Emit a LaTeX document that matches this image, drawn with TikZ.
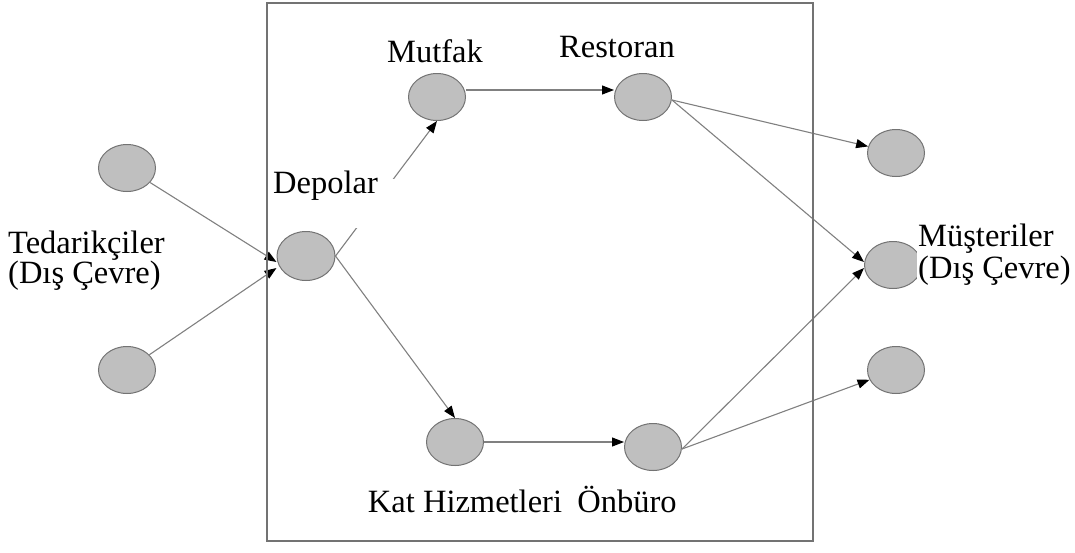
\documentclass[tikz,border=0pt]{standalone}
\usepackage{fontspec}
\setmainfont{Liberation Serif}
\usetikzlibrary{shapes.geometric,arrows.meta}
\begin{document}
\begin{tikzpicture}[x=1pt,y=-1pt,
  unit/.style={ellipse,draw=black!55,fill=black!25,line width=1pt,minimum width=57pt,minimum height=47pt,inner sep=0pt},
  flow/.style={draw=black!50,line width=1.1pt,-{Triangle[length=12pt,width=9pt,color=black]}},
  lbl/.style={inner sep=0pt,font=\fontsize{32.5}{30}\selectfont},
  frame/.style={draw=black!55,line width=1.1pt}]
\useasboundingbox (0,0) rectangle (1075,552);
% nodes
\node[unit] (s1) at (127,168) {};
\node[unit] (s2) at (127,370) {};
\node[unit,minimum width=58pt,minimum height=49pt] (dep) at (306,256) {};
\node[unit] (mut) at (437,97) {};
\node[unit] (res) at (643,97) {};
\node[unit] (kat) at (455,442) {};
\node[unit] (onb) at (653,447) {};
\node[unit] (c1) at (896,153) {};
\node[unit] (c2) at (893,265) {};
\node[unit] (c3) at (896,370) {};
% connectors
\draw[flow] (s1) -- ([yshift=-6pt]dep.west);
\draw[flow] (s2) -- ([yshift=-12pt]dep.west);
\draw[flow] (dep.east) -- (mut.south);
\draw[flow] (dep.east) -- (kat.north);
\draw[flow] ([yshift=7pt]mut.east) -- ([yshift=7pt]res.west);
\draw[flow] (kat) -- (kat -| onb.west);
\draw[flow] ([yshift=-3pt]res.east) -- (c1);
\draw[flow] ([yshift=-3pt]res.east) -- ([yshift=3pt]c2.west);
\draw[flow] ([yshift=-2pt]onb.east) -- ([yshift=-3pt]c2.west);
\draw[flow] ([yshift=-2pt]onb.east) -- (c3);
% white patch behind the Depolar label
\fill[white] (270,179) rectangle (397,228);
% frame
\draw[frame] (267,3) rectangle (813,541);
% labels
\node[lbl,anchor=base west] (ldep) at (273,193) {Depolar};
\node[lbl,anchor=base] (lmut) at (435,62) {Mutfak};
\node[lbl,anchor=base] (lres) at (617,57) {Restoran};
\node[lbl,anchor=base] (lkat) at (465,512) {Kat Hizmetleri};
\node[lbl,anchor=base] (lonb) at (627,512) {Önbüro};
\node[lbl,anchor=north west,align=left] (lted) at (8,231) {Tedarikçiler\\(Dış Çevre)};
\node[lbl,anchor=north west,align=left,fill=white,inner sep=1pt,font=\fontsize{32.5}{31.5}\selectfont] (lmus) at (917,223) {Müşteriler\\(Dış Çevre)};
\end{tikzpicture}
\end{document}
